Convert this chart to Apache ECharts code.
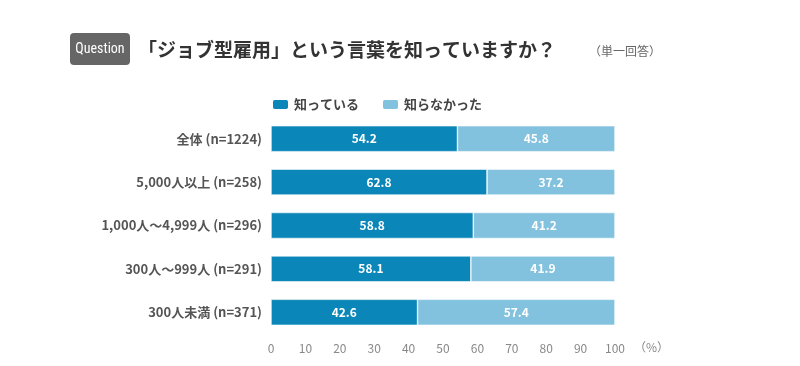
<!DOCTYPE html>
<html><head><meta charset="utf-8">
<script src="https://cdn.jsdelivr.net/npm/echarts@6/dist/echarts.min.js"></script>
<style>html,body{margin:0;padding:0;background:#fff}#c{width:800px;height:366px}</style>
</head><body><div id="c"></div>
<script>
const categories = ['全体 (n=1224)', '5,000人以上 (n=258)', '1,000人～4,999人 (n=296)', '300人～999人 (n=291)', '300人未満 (n=371)'];
const knowValues = [54.2, 62.8, 58.8, 58.1, 42.6];
const notKnowValues = [45.8, 37.2, 41.2, 41.9, 57.4];
const seriesNames = ['知っている', '知らなかった'];
const xTicks = [0, 10, 20, 30, 40, 50, 60, 70, 80, 90, 100];

const font = '"Noto Sans CJK JP", "Noto Sans", sans-serif';
const chart = echarts.init(document.getElementById('c'));
chart.setOption({
  animation: false,
  textStyle: { fontFamily: font },
  graphic: [
    { type: 'rect', left: 70, top: 33, shape: { width: 60, height: 32, r: 4 }, style: { fill: '#666666' } },
    { type: 'text', x: 100, y: 49, style: { text: 'Question', fill: '#fff', align: 'center', verticalAlign: 'middle', font: '14px "Liberation Sans Narrow", "Roboto Condensed", "Noto Sans", sans-serif' } },
    { type: 'text', left: 138, top: 40, style: { text: '「ジョブ型雇用」という言葉を知っていますか？', fill: '#333', font: 'bold 19px ' + font } },
    { type: 'text', left: 589, top: 45, style: { text: '（単一回答）', fill: '#666', font: '12px ' + font } },
    { type: 'text', left: 634, top: 341, style: { text: '（%）', fill: '#888', font: '12px ' + font } }
  ],
  legend: {
    left: 266, top: 93, itemWidth: 17, itemHeight: 11, itemGap: 22,
    textStyle: { fontSize: 13, fontWeight: 'bold', color: '#444', fontFamily: font },
    data: seriesNames
  },
  grid: { left: 271, right: 185, top: 117, bottom: 32 },
  xAxis: {
    type: 'value', min: 0, max: 100, interval: 10,
    axisLine: { show: false }, axisTick: { show: false }, splitLine: { show: false },
    axisLabel: { color: '#888', fontSize: 12, margin: 8, fontFamily: font,
      formatter: v => xTicks.includes(v) ? String(v) : '' }
  },
  yAxis: {
    type: 'category', inverse: true, data: categories,
    axisLine: { show: false }, axisTick: { show: false },
    axisLabel: { color: '#555', fontSize: 13, fontWeight: 'bold', margin: 9, fontFamily: font }
  },
  series: [
    { name: seriesNames[0], type: 'bar', stack: 's', barWidth: 26, data: knowValues,
      itemStyle: { color: '#0a86b8', borderColor: '#fff', borderWidth: 0.6 },
      label: { show: true, position: 'inside', color: '#fff', fontSize: 12, fontWeight: 'bold', formatter: p => p.value.toFixed(1) } },
    { name: seriesNames[1], type: 'bar', stack: 's', barWidth: 26, data: notKnowValues,
      itemStyle: { color: '#82c2de', borderColor: '#fff', borderWidth: 0.6 },
      label: { show: true, position: 'inside', color: '#fff', fontSize: 12, fontWeight: 'bold', formatter: p => p.value.toFixed(1) } }
  ]
});
</script></body></html>
